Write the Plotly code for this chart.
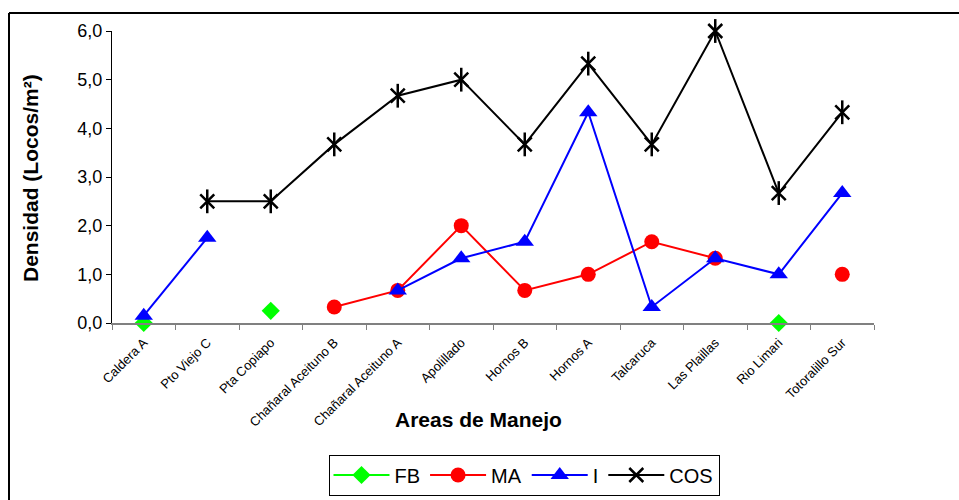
import plotly.graph_objects as go

categories = ["Caldera A", "Pto Viejo C", "Pta Copiapo", "Chañaral Aceituno B",
              "Chañaral Aceituno A", "Apolillado", "Hornos B", "Hornos A",
              "Talcaruca", "Las Plaillas", "Rio Limari", "Totoralillo Sur"]
fb = [0.0, None, 0.25, None, None, None, None, None, None, None, 0.0, None]
ma = [None, None, None, 0.33, 0.67, 2.0, 0.67, 1.0, 1.67, 1.33, None, 1.0]
i_vals = [0.15, 1.75, None, None, 0.67, 1.33, 1.67, 4.33, 0.33, 1.33, 1.0, 2.67]
cos = [None, 2.5, 2.5, 3.67, 4.67, 5.0, 3.67, 5.33, 3.67, 6.0, 2.67, 4.33]
y_ticks = [0, 1, 2, 3, 4, 5, 6]

fig = go.Figure()
fig.add_trace(go.Scatter(x=categories, y=fb, name="FB", mode="lines+markers",
                         line=dict(color="#00FF00", width=2),
                         marker=dict(symbol="diamond", size=14, color="#00FF00"),
                         cliponaxis=False))
fig.add_trace(go.Scatter(x=categories, y=ma, name="MA", mode="lines+markers",
                         line=dict(color="#FF0000", width=2),
                         marker=dict(symbol="circle", size=15, color="#FF0000"),
                         cliponaxis=False))
fig.add_trace(go.Scatter(x=categories, y=i_vals, name="I", mode="lines+markers",
                         line=dict(color="#0000FF", width=2),
                         marker=dict(symbol="triangle-up", size=16, color="#0000FF"),
                         cliponaxis=False))
fig.add_trace(go.Scatter(x=categories, y=cos, name="COS", mode="lines+markers",
                         line=dict(color="#000000", width=2),
                         marker=dict(symbol="x-thin-open", size=14, color="#000000",
                                     line=dict(color="#000000", width=2.5)),
                         legendgroup="cos", cliponaxis=False))
fig.add_trace(go.Scatter(x=categories, y=cos, name="COS", mode="markers",
                         marker=dict(symbol="line-ns-open", size=17, color="#000000",
                                     line=dict(color="#000000", width=2.5)),
                         legendgroup="cos", showlegend=False, cliponaxis=False,
                         hoverinfo="skip"))

L, R, T, B = 112, 874, 31, 323
W, H = 959, 500
pw, ph = R - L, B - T

def px(x):
    return (x - L) / pw

def py(y):
    return (B - y) / ph

fig.update_layout(
    width=W, height=H,
    margin=dict(l=L, r=W - R, t=T, b=H - B, autoexpand=False),
    paper_bgcolor="white", plot_bgcolor="white",
    separators=",.",
    font=dict(family="Arial, 'Liberation Sans', sans-serif", color="black"),
    showlegend=True,
    legend=dict(orientation="h", x=px(524), y=py(475), xanchor="center", yanchor="middle",
                bordercolor="black", borderwidth=1, font=dict(size=20),
                itemwidth=56, tracegroupgap=0),
    xaxis=dict(type="category", range=[-0.5, 11.5], showgrid=False, automargin=False,
               showline=True, linecolor="#808080", linewidth=2,
               ticks="outside", tickson="boundaries", tickcolor="#808080", ticklen=5,
               tickangle=-45, tickfont=dict(size=13), zeroline=False,
               ticklabelstandoff=5),
    yaxis=dict(range=[0, 6], tickvals=y_ticks, tickformat=".1f", showgrid=False,
               automargin=False,
               showline=True, linecolor="black", linewidth=1,
               ticks="outside", tickcolor="black", ticklen=5,
               tickfont=dict(size=18), zeroline=False),
    annotations=[
        dict(text="<b>Areas de Manejo</b>", xref="paper", yref="paper",
             x=px(478), y=py(420), showarrow=False, font=dict(size=21),
             xanchor="center", yanchor="middle"),
        dict(text="<b>Densidad (Locos/m²)</b>", xref="paper", yref="paper",
             x=px(30), y=py(178), showarrow=False, font=dict(size=21),
             textangle=-90, xanchor="center", yanchor="middle"),
    ],
    shapes=[
        dict(type="line", xref="paper", yref="paper", x0=px(9), y0=py(13), x1=px(1000), y1=py(13),
             line=dict(color="black", width=2)),
        dict(type="line", xref="paper", yref="paper", x0=px(9), y0=py(13), x1=px(9), y1=py(520),
             line=dict(color="black", width=2)),
    ],
)

fig.write_html("out.html", post_script="document.body.style.margin='0';",
               config={"displayModeBar": False})
